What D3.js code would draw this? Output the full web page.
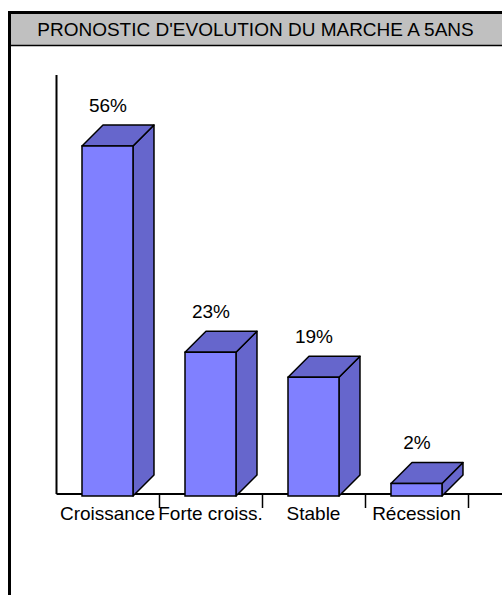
<!DOCTYPE html>
<html>
<head>
<meta charset="utf-8">
<script src="https://cdn.jsdelivr.net/npm/d3@7"></script>
<style>
  html, body { margin: 0; padding: 0; background: #fff; }
  svg { display: block; }
  text { font-family: "Liberation Sans", Arial, sans-serif; fill: #000; }
</style>
</head>
<body>
<svg id="chart" width="502" height="595"></svg>
<script>
// Market outlook survey: share of answers per scenario
const title = "PRONOSTIC D'EVOLUTION DU MARCHE A 5ANS";
const categories = ["Croissance", "Forte croiss.", "Stable", "Récession"];
const values = [56, 23, 19, 2];
const valueLabels = ["56%", "23%", "19%", "2%"];

const W = 502, H = 595;
const svg = d3.select("#chart");

const frontColor = "#8080ff";
const shadeColor = "#6666cc";
const depth = 21;          // oblique 3D offset of each column
const floorY = 496;        // bottom of the column front faces
const baseY = 494;         // category axis line

const x = d3.scaleBand().domain(categories).range([56.5, 468.5]);
const y = d3.scaleLinear().domain([0, 67]).range([floorY, 77.25]);
const bw = x.bandwidth();
const frontOffset = bw * 0.2476;
const frontWidth = bw * 0.495;

// outer frame and title band
svg.append("rect")
  .attr("x", 9.5).attr("y", 12.5)
  .attr("width", W + 10).attr("height", H + 10)
  .attr("fill", "#fff").attr("stroke", "#000").attr("stroke-width", 3);
svg.append("rect")
  .attr("x", 11).attr("y", 14)
  .attr("width", W).attr("height", 31.5)
  .attr("fill", "#c0c0c0");
svg.append("line")
  .attr("x1", 11).attr("x2", W).attr("y1", 45.5).attr("y2", 45.5)
  .attr("stroke", "#000").attr("stroke-width", 1.5);
svg.append("text")
  .attr("x", 255.5).attr("y", 36)
  .attr("text-anchor", "middle")
  .style("font-size", "19px")
  .text(title);

// value axis (no ticks) and category axis line
svg.append("line")
  .attr("x1", x.range()[0]).attr("x2", x.range()[0])
  .attr("y1", 75).attr("y2", baseY)
  .attr("stroke", "#000").attr("stroke-width", 2);
svg.append("line")
  .attr("x1", x.range()[0]).attr("x2", W)
  .attr("y1", baseY).attr("y2", baseY)
  .attr("stroke", "#000").attr("stroke-width", 1.8);

// category separators
svg.append("g").selectAll("line")
  .data(categories)
  .join("line")
  .attr("x1", d => x(d) + bw).attr("x2", d => x(d) + bw)
  .attr("y1", baseY).attr("y2", 508)
  .attr("stroke", "#000").attr("stroke-width", 1.5);

// 3D columns
const bars = svg.append("g").selectAll("g")
  .data(categories.map((c, i) => ({ c, v: values[i], label: valueLabels[i] })))
  .join("g");

const poly = pts => pts.map(p => p.join(",")).join(" ");

bars.append("polygon") // side face
  .attr("points", d => {
    const x1 = x(d.c) + frontOffset + frontWidth, yt = y(d.v);
    return poly([[x1, floorY], [x1 + depth, floorY - depth], [x1 + depth, yt - depth], [x1, yt]]);
  })
  .attr("fill", shadeColor).attr("stroke", "#000").attr("stroke-width", 1.5)
  .attr("stroke-linejoin", "round");

bars.append("polygon") // top face
  .attr("points", d => {
    const x0 = x(d.c) + frontOffset, x1 = x0 + frontWidth, yt = y(d.v);
    return poly([[x0, yt], [x0 + depth, yt - depth], [x1 + depth, yt - depth], [x1, yt]]);
  })
  .attr("fill", shadeColor).attr("stroke", "#000").attr("stroke-width", 1.5)
  .attr("stroke-linejoin", "round");

bars.append("rect") // front face
  .attr("x", d => x(d.c) + frontOffset)
  .attr("y", d => y(d.v))
  .attr("width", frontWidth)
  .attr("height", d => floorY - y(d.v))
  .attr("fill", frontColor).attr("stroke", "#000").attr("stroke-width", 1.5);

bars.append("text")
  .attr("x", d => x(d.c) + frontOffset + frontWidth / 2 + 0.5)
  .attr("y", d => y(d.v) - depth - 13.5)
  .attr("text-anchor", "middle")
  .style("font-size", "19px")
  .text(d => d.label);

// category labels
svg.append("g").selectAll("text")
  .data(categories)
  .join("text")
  .attr("x", d => x(d) + frontOffset + frontWidth / 2)
  .attr("y", 520)
  .attr("text-anchor", "middle")
  .style("font-size", "19px")
  .text(d => d);
</script>
</body>
</html>
